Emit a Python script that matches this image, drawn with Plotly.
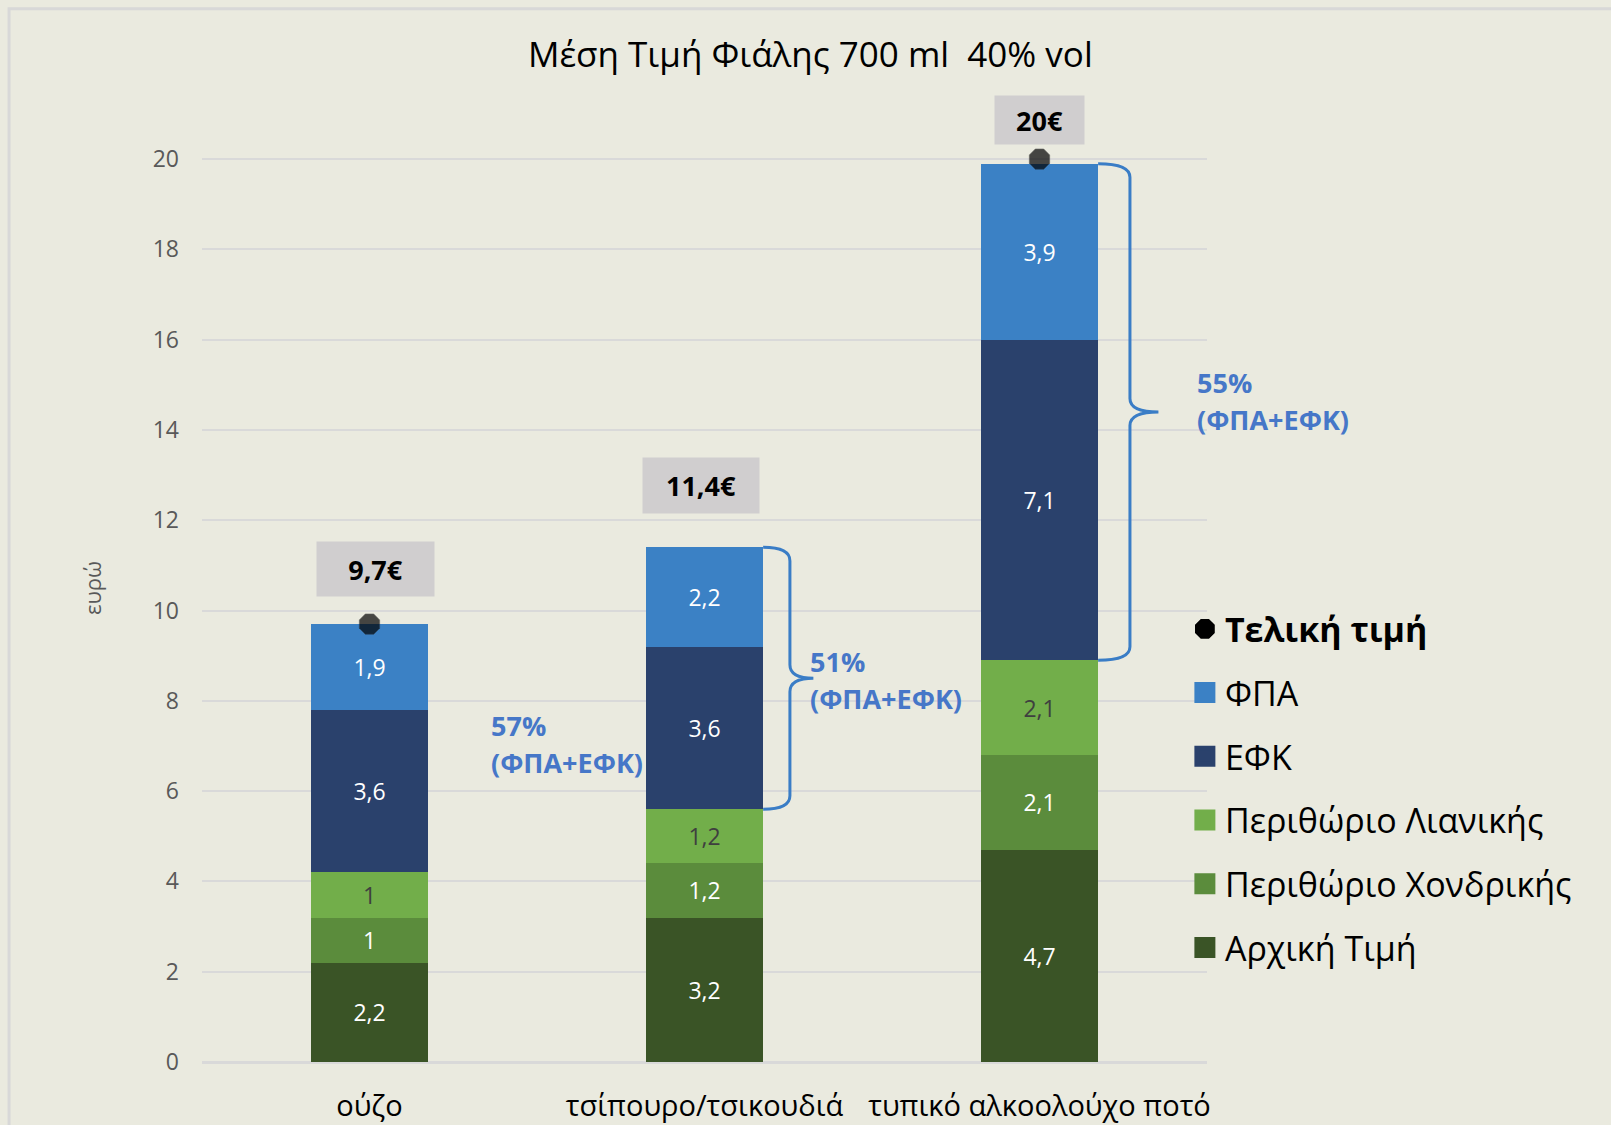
import plotly.graph_objects as go

# ---------------- data ----------------
categories = ["ούζο", "τσίπουρο/τσικουδιά", "τυπικό αλκοολούχο ποτό"]
arxiki_timi = [2.2, 3.2, 4.7]          # Αρχική Τιμή
perithorio_xondrikis = [1.0, 1.2, 2.1]  # Περιθώριο Χονδρικής
perithorio_lianikis = [1.0, 1.2, 2.1]   # Περιθώριο Λιανικής
efk = [3.6, 3.6, 7.1]                   # ΕΦΚ
fpa = [1.9, 2.2, 3.9]                   # ΦΠΑ
teliki_timi = [9.7, 11.4, 20.0]         # Τελική τιμή
tax_share = ["57%", "51%", "55%"]       # (ΦΠΑ+ΕΦΚ) share
y_ticks = [0, 2, 4, 6, 8, 10, 12, 14, 16, 18, 20]

# ---------------- style ----------------
FONT = "Open Sans"
BG = "#EAEADF"
GRID = "#D9D9D9"
LABEL_BLUE = "#4677C8"
BRACE_BLUE = "#3A7DC6"
BAR_W = 0.35

# (name, values, colour, label colour, legend rank)
series = [
    ("Αρχική Τιμή", arxiki_timi, "#3A5426", "#FFFFFF", 6),
    ("Περιθώριο Χονδρικής", perithorio_xondrikis, "#5B8C3C", "#FFFFFF", 5),
    ("Περιθώριο Λιανικής", perithorio_lianikis, "#72AE4A", "#3F3F3F", 4),
    ("ΕΦΚ", efk, "#2A416C", "#FFFFFF", 3),
    ("ΦΠΑ", fpa, "#3B81C5", "#FFFFFF", 2),
]


def fmt(v):
    return f"{v:g}".replace(".", ",")


fig = go.Figure()

for name, vals, color, tcolor, rank in series:
    fig.add_trace(go.Bar(
        x=categories, y=vals, name=name, width=BAR_W,
        marker=dict(color=color, line=dict(width=0)),
        text=[fmt(v) for v in vals], textposition="inside",
        insidetextanchor="middle", textangle=0,
        textfont=dict(family=FONT, size=23, color=tcolor),
        legendgroup=name, legendrank=rank, showlegend=False,
        hoverinfo="x+y+name",
    ))
    # legend proxy (bigger square symbol)
    fig.add_trace(go.Scatter(
        x=[None], y=[None], mode="markers", name=name, legendgroup=name,
        legendrank=rank,
        marker=dict(symbol="square", size=16, color=color,
                    line=dict(color=color, width=5)),
        showlegend=True, hoverinfo="skip",
    ))

# final price markers (not drawn for the middle bar in the original)
fig.add_trace(go.Scatter(
    x=categories, y=teliki_timi, mode="markers", name="Τελική τιμή",
    legendgroup="Τελική τιμή", legendrank=1, showlegend=False,
    marker=dict(symbol="octagon", size=[22, 0, 22], color="#000000",
                line=dict(color="rgba(40,40,40,0.55)", width=1)),
    cliponaxis=False,
))
fig.add_trace(go.Scatter(
    x=[None], y=[None], mode="markers", name="<b>Τελική τιμή</b>",
    legendgroup="Τελική τιμή", legendrank=1,
    marker=dict(symbol="octagon", size=16, color="#000000",
                line=dict(color="#000000", width=5)),
    showlegend=True, hoverinfo="skip",
))

annotations = []

# price labels in grey boxes above bars
label_shift = [55, 62, 39]
label_dx = [6, -4, 0]
label_w = [105, 104, 77]
label_h = [42, 43, 36]
for i, (c, v) in enumerate(zip(categories, teliki_timi)):
    annotations.append(dict(
        x=i, y=v, xref="x", yref="y", text=f"<b>{fmt(v)}€</b>",
        showarrow=False, yshift=label_shift[i], xshift=label_dx[i],
        bgcolor="#D0CECF",
        width=label_w[i], height=label_h[i], borderpad=6,
        font=dict(family=FONT, size=27, color="#000000"),
    ))

# tax share annotations (two lines, spaced like the original)
share_dx = [0.181, 0.133, 0.288]
share_dy = [4, -2, 11]
for i in range(3):
    efk_bottom = arxiki_timi[i] + perithorio_xondrikis[i] + perithorio_lianikis[i]
    top = efk_bottom + efk[i] + fpa[i]
    mid = (efk_bottom + top) / 2
    for txt, dy in ((tax_share[i], 18.5), ("(ΦΠΑ+ΕΦΚ)", -18.5)):
        annotations.append(dict(
            x=i + BAR_W / 2 + share_dx[i], y=mid, xref="x", yref="y",
            xanchor="left", yanchor="middle", align="left", showarrow=False,
            yshift=share_dy[i] + dy,
            text=f"<b>{txt}</b>",
            font=dict(family=FONT, size=27, color=LABEL_BLUE),
        ))

# curly braces for ΦΠΑ+ΕΦΚ (second and third bars)
shapes = []
brace_dx = [0.08, 0.095]
tip_dx = [0.15, 0.18]
r = 0.3
for k, i in enumerate([1, 2]):
    efk_bottom = arxiki_timi[i] + perithorio_xondrikis[i] + perithorio_lianikis[i]
    top = efk_bottom + efk[i] + fpa[i]
    mid = (efk_bottom + top) / 2
    x0 = i + BAR_W / 2
    x1 = x0 + brace_dx[k]
    x2 = x0 + tip_dx[k]
    path = (f"M{x0},{top} Q{x1},{top} {x1},{top - r} "
            f"L{x1},{mid + r} Q{x1},{mid} {x2},{mid} "
            f"Q{x1},{mid} {x1},{mid - r} "
            f"L{x1},{efk_bottom + r} Q{x1},{efk_bottom} {x0},{efk_bottom}")
    shapes.append(dict(type="path", path=path, xref="x", yref="y",
                       line=dict(color=BRACE_BLUE, width=3)))

# outer chart-area border
shapes.append(dict(type="rect", xref="paper", yref="paper",
                   x0=-0.192, x1=1.6, y0=-0.3, y1=1.111,
                   line=dict(color="#D8D8D8", width=3), layer="below"))

fig.update_layout(
    width=1611, height=1125,
    margin=dict(l=202, r=404, t=114, b=63),
    paper_bgcolor=BG, plot_bgcolor=BG,
    barmode="stack",
    font=dict(family=FONT, color="#000000"),
    title=dict(text="Μέση Τιμή Φιάλης 700 ml \u00a040% vol",
               x=0.503, xref="container", xanchor="center",
               y=1 - 55 / 1125, yref="container", yanchor="middle",
               font=dict(family=FONT, size=35, color="#000000")),
    legend=dict(x=0.978, xanchor="left", y=0.487, yanchor="top",
                traceorder="grouped", tracegroupgap=16.5,
                bgcolor="rgba(0,0,0,0)",
                font=dict(family=FONT, size=34, color="#000000")),
    annotations=annotations,
    shapes=shapes,
    showlegend=True,
)

fig.update_xaxes(
    range=[-0.5, 2.5], showgrid=False, showline=False, zeroline=False,
    ticks="", ticklabelstandoff=24, automargin=False,
    tickfont=dict(family=FONT, size=29, color="#000000"),
)
fig.update_yaxes(
    range=[0, 21], tickvals=y_ticks, showgrid=True, gridcolor=GRID,
    gridwidth=2, zeroline=True, zerolinecolor=GRID, zerolinewidth=3,
    showline=False, ticks="", ticklabelstandoff=22, automargin=False,
    tickfont=dict(family=FONT, size=23, color="#595959"),
    title=dict(text="ευρώ", standoff=44,
               font=dict(family=FONT, size=22, color="#595959")),
)

fig.write_html(
    "out.html",
    config={"displayModeBar": False},
    post_script="document.body.style.margin='0';"
                "document.body.style.backgroundColor='#EAEADF';",
)
